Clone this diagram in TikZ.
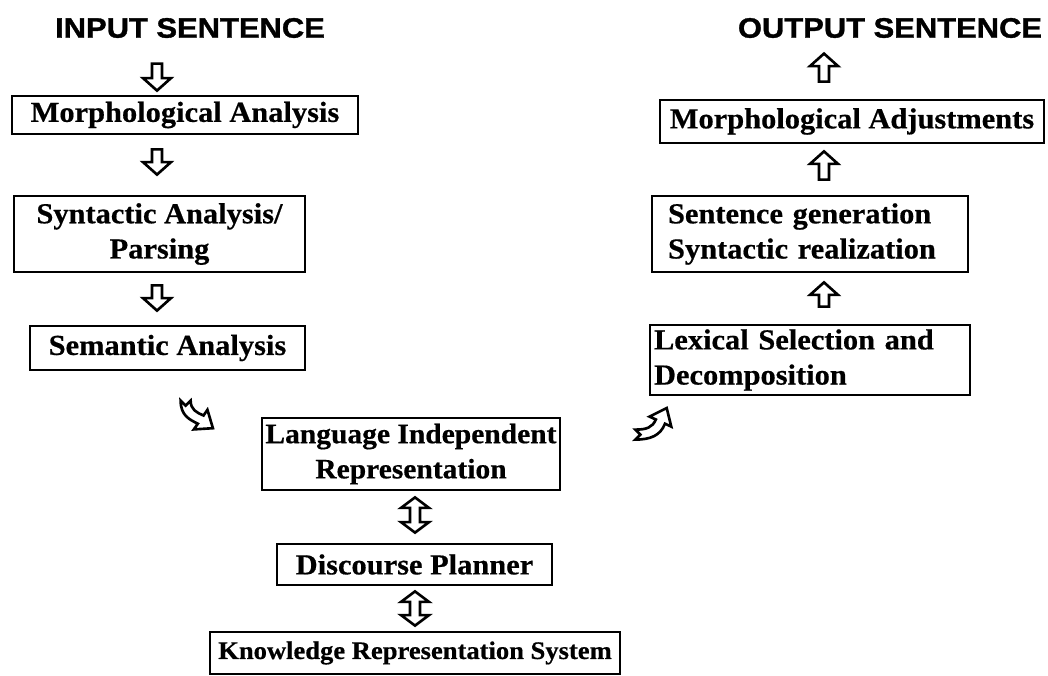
\documentclass[tikz,border=0pt]{standalone}
\usepackage{fontspec}
\usetikzlibrary{calc}
\newfontfamily\boxfont{Liberation Serif}[FakeStretch=1.05, BoldFeatures={FakeBold=0.5}]
\newfontfamily\headfont{Liberation Sans}[FakeStretch=1.1, BoldFeatures={FakeBold=1.2}]

\tikzset{
  procbox/.style={draw, line width=1.6pt, inner sep=0pt, align=center,
    font=\boxfont\bfseries\fontsize{16.5}{20}\selectfont},
  heading/.style={inner sep=0pt, font=\headfont\bfseries\fontsize{16}{18}\selectfont},
  blockarrow/.style={draw, line width=1.5pt, fill=white, line join=miter},
}

% hollow block arrow from tail #1 to tip #2
\newcommand\hollowarrow[2]{%
  \path #1 coordinate (ha-s);
  \path #2 coordinate (ha-e);
  \path ($(ha-e)!0.25cm!(ha-s)$) coordinate (ha-n);
  \draw[blockarrow]
    ($(ha-s)!0.1cm!90:(ha-e)$) -- ($(ha-n)!0.1cm!90:(ha-e)$) --
    ($(ha-n)!0.28cm!90:(ha-e)$) -- (ha-e) --
    ($(ha-n)!0.28cm!-90:(ha-e)$) -- ($(ha-n)!0.1cm!-90:(ha-e)$) --
    ($(ha-s)!0.1cm!-90:(ha-e)$) -- cycle;
}
% hollow block arrow with a head at both ends
\newcommand\hollowdarrow[2]{%
  \path #1 coordinate (ha-s);
  \path #2 coordinate (ha-e);
  \path ($(ha-e)!0.21cm!(ha-s)$) coordinate (ha-n);
  \path ($(ha-s)!0.21cm!(ha-e)$) coordinate (ha-m);
  \draw[blockarrow]
    (ha-s) -- ($(ha-m)!0.28cm!90:(ha-e)$) -- ($(ha-m)!0.1cm!90:(ha-e)$) --
    ($(ha-n)!0.1cm!90:(ha-e)$) -- ($(ha-n)!0.28cm!90:(ha-e)$) -- (ha-e) --
    ($(ha-n)!0.28cm!-90:(ha-e)$) -- ($(ha-n)!0.1cm!-90:(ha-e)$) --
    ($(ha-m)!0.1cm!-90:(ha-e)$) -- ($(ha-m)!0.28cm!-90:(ha-e)$) -- cycle;
}

\begin{document}
\begin{tikzpicture}[x=0.02cm, y=-0.02cm]
\fill[white] (0,0) rectangle (1048,676);
\useasboundingbox (0,0) rectangle (1048,676);

% column lines for the arrows
\coordinate (lcol) at (157,0);
\coordinate (rcol) at (824,0);
\coordinate (mcol) at (415,0);

% analysis side
\node[heading] (inp) at (190,28) {INPUT SENTENCE};
\node[procbox, minimum width=6.92cm, minimum height=0.76cm] (morph) at (185,115) {Morphological Analysis};
\node[procbox, minimum width=5.82cm, minimum height=1.52cm] (synt) at (159.5,234) {Syntactic Analysis/\\Parsing};
\node[procbox, minimum width=5.5cm, minimum height=0.88cm] (sem) at (167.5,348) {Semantic Analysis};

% interlingua core
\node[procbox, minimum width=5.96cm, minimum height=1.44cm,
      font=\boxfont\bfseries\fontsize{16}{20}\selectfont] (lir) at (411,454) {Language Independent\\Representation};
\node[procbox, minimum width=5.5cm, minimum height=0.82cm] (dp) at (414.5,564.5) {Discourse Planner};
\node[procbox, minimum width=8.2cm, minimum height=0.84cm,
      font=\boxfont\bfseries\fontsize{14.4}{18}\selectfont] (krs) at (415,653) {Knowledge Representation System};

% generation side
\node[heading] (out) at (890,28) {OUTPUT SENTENCE};
\node[procbox, minimum width=7.68cm, minimum height=0.86cm] (madj) at (852,121.5) {Morphological Adjustments};
\node[procbox, align=left, text width=5.68cm, inner xsep=0.32cm, minimum height=1.52cm] (sgen) at (810,234) {Sentence generation\\Syntactic realization};
\node[procbox, align=left, text width=6.24cm, inner xsep=0.08cm, minimum height=1.4cm] (lex) at (810,360) {Lexical Selection and\\Decomposition};

% analysis arrows
\hollowarrow{($(morph.north -| lcol)+(0,-31)$)}{($(morph.north -| lcol)+(0,-4)$)}
\hollowarrow{($(morph.south -| lcol)+(0,14)$)}{($(synt.north -| lcol)+(0,-20)$)}
\hollowarrow{($(synt.south -| lcol)+(0,12)$)}{($(sem.north -| lcol)+(0,-14)$)}

% generation arrows
\hollowarrow{($(lex.north -| rcol)+(0,-17)$)}{($(sgen.south -| rcol)+(0,9)$)}
\hollowarrow{($(sgen.north -| rcol)+(0,-15)$)}{($(madj.south -| rcol)+(0,7)$)}
\hollowarrow{($(madj.north -| rcol)+(0,-17)$)}{($(madj.north -| rcol)+(0,-45)$)}

% two-way links of the core
\hollowdarrow{($(lir.south -| mcol)+(0,6)$)}{($(dp.north -| mcol)+(0,-10)$)}
\hollowdarrow{($(dp.south -| mcol)+(0,5)$)}{($(krs.north -| mcol)+(0,-5)$)}

% bent arrow into the representation
\begin{scope}[shift={($(lir.north west)+(1,1)$)}]
  \draw[blockarrow] (-71,-17) -- (-76,-12) -- (-81,-17)
    .. controls (-81,-2) and (-72,2) .. (-63.8,6.1) -- (-67.8,11.8) -- (-48.7,10.6)
    -- (-54.2,-7.8) -- (-58.1,-2.1) .. controls (-65,-5) and (-71,-8) .. (-71,-17) -- cycle;
\end{scope}

% bent arrow out of the representation
\begin{scope}[shift={($(lir.north east)+(-3,9)$)}]
  \draw[blockarrow] (77,4) -- (82,9) -- (77,14)
    .. controls (92,14) and (102,10) .. (106.6,-1.9) -- (112.9,1) -- (108.3,-17.6)
    -- (91.1,-9) -- (97.5,-6.1) .. controls (94,2) and (88,4) .. (77,4) -- cycle;
\end{scope}
\end{tikzpicture}
\end{document}
